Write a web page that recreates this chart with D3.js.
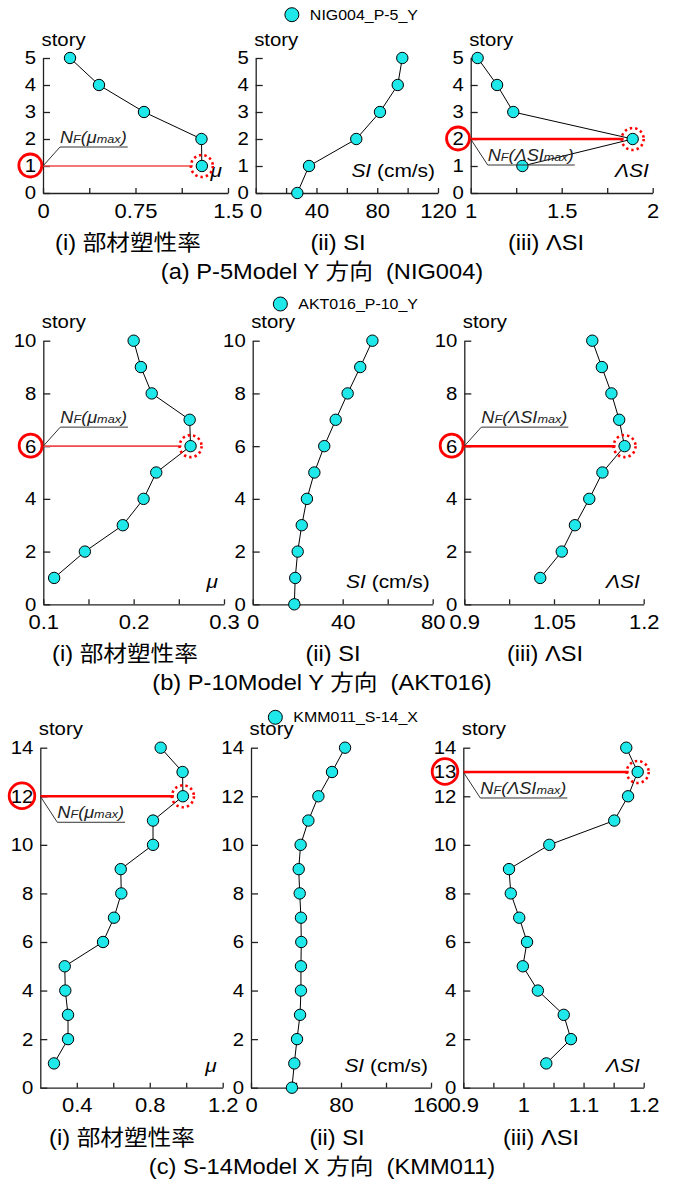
<!DOCTYPE html>
<html>
<head>
<meta charset="utf-8">
<script src="https://cdn.jsdelivr.net/npm/d3@7"></script>
<style>
  html, body { margin: 0; padding: 0; background: #fff; }
  svg { display: block; }
  text { white-space: pre; }
</style>
</head>
<body>
<svg id="chart" width="673" height="1183"></svg>
<script>
// ---- data ----
// (a) P-5 model, NIG004
const storiesA = [1, 2, 3, 4, 5];
const siStoriesA = [0, 1, 2, 3, 4, 5];
const muA = [1.288, 1.285, 0.819, 0.454, 0.219];
const siA = [27.4, 35.1, 66.2, 81.8, 93.5, 96.5];
const lsiA = [1.284, 1.890, 1.234, 1.145, 1.038];

// (b) P-10 model, AKT016
const storiesB = [1, 2, 3, 4, 5, 6, 7, 8, 9, 10];
const siStoriesB = [0, 1, 2, 3, 4, 5, 6, 7, 8, 9, 10];
const muB = [0.112, 0.146, 0.188, 0.211, 0.225, 0.263, 0.262, 0.220, 0.208, 0.200];
const siB = [18.5, 18.9, 20.0, 21.8, 24.1, 27.4, 31.8, 36.9, 42.2, 47.8, 53.2];
const lsiB = [1.027, 1.063, 1.085, 1.109, 1.131, 1.168, 1.159, 1.146, 1.130, 1.114];

// (c) S-14 model, KMM011
const storiesC = [1, 2, 3, 4, 5, 6, 7, 8, 9, 10, 11, 12, 13, 14];
const siStoriesC = [0, 1, 2, 3, 4, 5, 6, 7, 8, 9, 10, 11, 12, 13, 14];
const muC = [0.275, 0.352, 0.352, 0.337, 0.334, 0.544, 0.604, 0.644, 0.641, 0.818, 0.818, 0.982, 0.980, 0.860];
const siC = [36.4, 38.5, 40.9, 43.6, 44.4, 44.4, 44.7, 44.4, 43.3, 42.4, 44.1, 51.0, 59.9, 72.0, 83.6];
const lsiC = [1.038, 1.079, 1.067, 1.024, 0.999, 1.006, 0.993, 0.979, 0.976, 1.043, 1.151, 1.174, 1.190, 1.171];

// axis domains and tick labels
const storyTicksA = [0, 1, 2, 3, 4, 5];
const storyTicksB = [0, 2, 4, 6, 8, 10];
const storyTicksC = [0, 2, 4, 6, 8, 10, 12, 14];

const muDomainA = [0, 1.5], muTicksA = [0, 0.75, 1.5], muMinorA = [0.375, 1.125];
const siDomainA = [0, 120], siTicksA = [0, 40, 80, 120], siMinorA = [20, 60, 100];
const lsiDomainA = [1, 2], lsiTicksA = [1, 1.5, 2], lsiMinorA = [1.25, 1.75];

const muDomainB = [0.1, 0.3], muTicksB = [0.1, 0.2, 0.3], muMinorB = [0.15, 0.25];
const siDomainB = [0, 80], siTicksB = [0, 40, 80], siMinorB = [20, 60];
const lsiDomainB = [0.9, 1.2], lsiTicksB = [0.9, 1.05, 1.2], lsiMinorB = [0.975, 1.125];

const muDomainC = [0.2, 1.2], muTicksC = [0.4, 0.8, 1.2], muMinorC = [0.6, 1.0];
const siDomainC = [0, 160], siTicksC = [0, 80, 160], siMinorC = [40, 120];
const lsiDomainC = [0.9, 1.2], lsiTicksC = [0.9, 1, 1.1, 1.2], lsiMinorC = [0.95, 1.05, 1.15];

const subTitles = ['(i) 部材塑性率', '(ii) SI', '(iii) ΛSI'];
const groupTitles = ['(a) P-5Model Y 方向  (NIG004)', '(b) P-10Model Y 方向  (AKT016)', '(c) S-14Model X 方向  (KMM011)'];
const legendNames = ['NIG004_P-5_Y', 'AKT016_P-10_Y', 'KMM011_S-14_X'];

// ---- look ----
const FONT = '"Liberation Sans", Arial, "Noto Sans CJK JP", sans-serif';
const SX = 1.1;          // the figure's lettering is set a little wide
const CYAN = '#1ee8ea';
const RED = '#ff0000';
const AXIS = '#222';

const svg = d3.select('#chart').attr('font-family', FONT);
svg.append('rect').attr('width', 673).attr('height', 1183).attr('fill', '#fff');

function label(parent, x, y, size, anchor, parts, fill) {
  const t = parent.append('text')
    .attr('transform', `translate(${x},${y}) scale(${SX},1)`)
    .attr('text-anchor', anchor)
    .attr('font-size', size)
    .attr('fill', fill || '#000');
  (typeof parts === 'string' ? [{ t: parts }] : parts).forEach((p) => {
    t.append('tspan').text(p.t)
      .attr('font-style', p.i ? 'italic' : null)
      .attr('font-size', p.s || null);
  });
  return t;
}

function drawPanel(g, o) {
  const x = d3.scaleLinear().domain(o.domain).range(o.xr);
  const y = d3.scaleLinear().domain([0, d3.max(o.storyTicks)]).range(o.yr);
  const fmt = (v) => (o.ticks.includes(v) ? String(v) : '');

  const iMax = o.mark ? d3.maxIndex(o.values) : -1;
  const sMax = iMax >= 0 ? o.stories[iMax] : null;
  // the marked story always gets its own number on the axis
  const yTicks = o.mark && !o.storyTicks.includes(sMax)
    ? o.storyTicks.concat([sMax]).sort(d3.ascending) : o.storyTicks;

  const xAxis = g.append('g').attr('transform', `translate(0,${o.yr[0]})`)
    .call(d3.axisBottom(x).tickValues(o.ticks.concat(o.minor)).tickFormat(fmt)
      .tickSizeInner(-5).tickSizeOuter(0).tickPadding(10.5));
  const yAxis = g.append('g').attr('transform', `translate(${o.xr[0]},0)`)
    .call(d3.axisLeft(y).tickValues(yTicks).tickFormat(String)
      .tickSizeInner(-7).tickSizeOuter(0).tickPadding(7));

  [xAxis, yAxis].forEach((a) => {
    a.attr('font-family', FONT).attr('font-size', null);
    a.select('.domain').attr('stroke', AXIS).attr('stroke-width', 1.3);
    a.selectAll('.tick line').attr('stroke', AXIS).attr('stroke-width', 1.3);
  });
  xAxis.selectAll('.tick text').attr('font-size', 20).attr('fill', '#000')
    .attr('transform', `scale(${SX},1)`);
  yAxis.selectAll('.tick text').attr('font-size', 18.5).attr('fill', '#000')
    .attr('x', 0).attr('transform', `translate(-7,0) scale(${SX},1)`);

  label(g, o.xr[0] - 1.5, o.yr[1] - 12.5, 18.5, 'start', 'story');

  if (o.kind === 'mu') label(g, o.xr[1] - 6, o.yr[0] - 16, 19, 'end', [{ t: 'μ', i: true }]);
  if (o.kind === 'si') label(g, o.xr[1] - 3, o.yr[0] - 16, 19, 'end', [{ t: 'SI', i: true }, { t: ' (cm/s)' }]);
  if (o.kind === 'lsi') label(g, o.xr[1] - 4, o.yr[0] - 16, 19, 'end', [{ t: 'ΛSI', i: true }]);

  const pts = o.values.map((v, i) => ({ v, s: o.stories[i] }));

  let mx = null;
  if (o.mark) {
    mx = { px: x(o.values[iMax]), py: y(sMax), s: sMax };
    g.append('line')
      .attr('x1', o.xr[0]).attr('x2', mx.px - 9)
      .attr('y1', mx.py).attr('y2', mx.py)
      .attr('stroke', o.mark.color).attr('stroke-width', o.mark.width);
  }

  g.append('path').datum(pts)
    .attr('fill', 'none').attr('stroke', '#000').attr('stroke-width', 1)
    .attr('d', d3.line().x((d) => x(d.v)).y((d) => y(d.s)));

  g.selectAll('circle.pt').data(pts).join('circle')
    .attr('class', 'pt')
    .attr('cx', (d) => x(d.v)).attr('cy', (d) => y(d.s)).attr('r', 5.7)
    .attr('fill', CYAN).attr('stroke', '#000').attr('stroke-width', 1);

  if (!mx) return;

  g.append('circle').attr('cx', mx.px).attr('cy', mx.py).attr('r', 11)
    .attr('fill', 'none').attr('stroke', RED).attr('stroke-width', 2.6)
    .attr('stroke-dasharray', '2.4,3');

  // ring round the story number on the axis
  const tick = yAxis.selectAll('.tick').filter((d) => d === mx.s).select('text').node();
  const w = tick ? tick.getComputedTextLength() * SX : 11;
  g.append('circle')
    .attr('cx', o.xr[0] - 7 - w / 2).attr('cy', mx.py - 0.5)
    .attr('r', Math.max(11.5, w / 2 + 1.5))
    .attr('fill', 'none').attr('stroke', RED).attr('stroke-width', 2.8);

  // N_F(...max) call-out
  const ex = o.xr[0] + 17;
  const ey = o.mark.dir === 'up' ? mx.py - 19 : mx.py + 26;
  const sym = o.kind === 'mu' ? '(μ' : '(ΛSI';
  const t = label(g, ex, ey - 4, 16.5, 'start', [
    { t: 'N', i: true }, { t: 'F', i: true, s: 11.5 }, { t: sym, i: true },
    { t: 'max', i: true, s: 11.5 }, { t: ')', i: true }
  ], '#222');
  const tw = t.node().getComputedTextLength() * SX;
  g.append('polyline')
    .attr('points', `${o.xr[0]},${mx.py} ${ex},${ey} ${ex + tw + 1},${ey}`)
    .attr('fill', 'none').attr('stroke', '#333').attr('stroke-width', 1);
}

function drawGroup(gi, L, D) {
  const g = svg.append('g');
  const kinds = ['mu', 'si', 'lsi'];
  kinds.forEach((kind, k) => {
    drawPanel(g.append('g'), {
      kind,
      xr: L.xr[k], yr: L.yr,
      domain: D.domain[k], ticks: D.ticks[k], minor: D.minor[k],
      storyTicks: D.storyTicks,
      stories: kind === 'si' ? D.siStories : D.stories,
      values: D.values[k],
      mark: L.marks[k]
    });
    label(g, L.sub[k], L.yr[0] + 57, 21.5, 'middle', subTitles[k]);
  });
  label(g, L.titleX, L.yr[0] + 86, 21.5, 'middle', groupTitles[gi]);

  // legend
  const lt = label(g, 418, L.legendY + 5, 14.5, 'end', legendNames[gi]);
  const lw = lt.node().getComputedTextLength() * SX;
  g.append('circle').attr('cx', 418 - lw - 18).attr('cy', L.legendY).attr('r', 7)
    .attr('fill', CYAN).attr('stroke', '#000').attr('stroke-width', 1);
}

const thin = (dir) => ({ dir, color: '#f04a4a', width: 1.6 });
const thick = (dir) => ({ dir, color: RED, width: 2.5 });

drawGroup(0, {
  yr: [193, 58], xr: [[43, 228], [255.7, 438], [470.7, 652.7]],
  legendY: 14.7, sub: [128, 338, 546], titleX: 322,
  marks: [thin('up'), null, thick('down')]
}, {
  storyTicks: storyTicksA, stories: storiesA, siStories: siStoriesA,
  values: [muA, siA, lsiA],
  domain: [muDomainA, siDomainA, lsiDomainA],
  ticks: [muTicksA, siTicksA, lsiTicksA],
  minor: [muMinorA, siMinorA, lsiMinorA]
});

drawGroup(1, {
  yr: [604.3, 340.7], xr: [[43.3, 224], [252.7, 432.7], [464.3, 643.7]],
  legendY: 304, sub: [125, 333, 545], titleX: 322,
  marks: [thin('up'), null, thick('up')]
}, {
  storyTicks: storyTicksB, stories: storiesB, siStories: siStoriesB,
  values: [muB, siB, lsiB],
  domain: [muDomainB, siDomainB, lsiDomainB],
  ticks: [muTicksB, siTicksB, lsiTicksB],
  minor: [muMinorB, siMinorB, lsiMinorB]
});

drawGroup(2, {
  yr: [1087.7, 747.7], xr: [[40.3, 222.7], [251, 431], [463.3, 643.7]],
  legendY: 717.3, sub: [122, 337, 541], titleX: 322,
  marks: [thick('down'), null, thick('down')]
}, {
  storyTicks: storyTicksC, stories: storiesC, siStories: siStoriesC,
  values: [muC, siC, lsiC],
  domain: [muDomainC, siDomainC, lsiDomainC],
  ticks: [muTicksC, siTicksC, lsiTicksC],
  minor: [muMinorC, siMinorC, lsiMinorC]
});
</script>
</body>
</html>
